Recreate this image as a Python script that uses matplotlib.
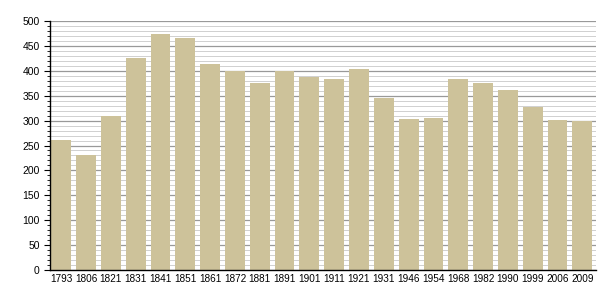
import matplotlib
matplotlib.use('Agg')
import matplotlib.pyplot as plt
from matplotlib.ticker import MultipleLocator

years = ['1793', '1806', '1821', '1831', '1841', '1851', '1861', '1872', '1881', '1891', '1901',
         '1911', '1921', '1931', '1946', '1954', '1968', '1982', '1990', '1999', '2006', '2009']
population = [261, 230, 310, 426, 474, 466, 414, 400, 376, 400, 388,
              384, 404, 345, 303, 305, 384, 376, 361, 327, 301, 300]

plt.rcParams['font.family'] = ['Liberation Sans', 'DejaVu Sans']

fig = plt.figure(figsize=(6.05, 3.0), dpi=100)
ax = fig.add_axes([50/605, 30/300, 546/605, 249/300])

x = [i + 0.05 for i in range(len(years))]
ax.bar(x, population, width=0.8, align='edge', color='#cdc29a', zorder=3)

ax.set_xlim(0, len(years))
ax.set_ylim(0, 500)
ax.set_xticks([i + 0.45 for i in range(len(years))])
ax.set_xticklabels(years, fontsize=7.2)
ax.tick_params(axis='x', length=0, pad=3)

ax.yaxis.set_major_locator(MultipleLocator(50))
ax.yaxis.set_minor_locator(MultipleLocator(10))
ax.tick_params(axis='y', which='major', labelsize=7.5, length=4, width=0.8, direction='out')
ax.tick_params(axis='y', which='minor', length=2, width=0.6, direction='out')
ax.grid(axis='y', which='major', color='#999999', linewidth=0.9, zorder=0)
ax.grid(axis='y', which='minor', color='#d0d0d0', linewidth=0.7, zorder=0)

for s in ['top', 'right']:
    ax.spines[s].set_visible(False)
ax.spines['left'].set_linewidth(1.0)
ax.spines['bottom'].set_linewidth(1.0)
ax.spines['left'].set_zorder(4)
ax.spines['bottom'].set_zorder(4)

plt.savefig('out.png', dpi=100)
